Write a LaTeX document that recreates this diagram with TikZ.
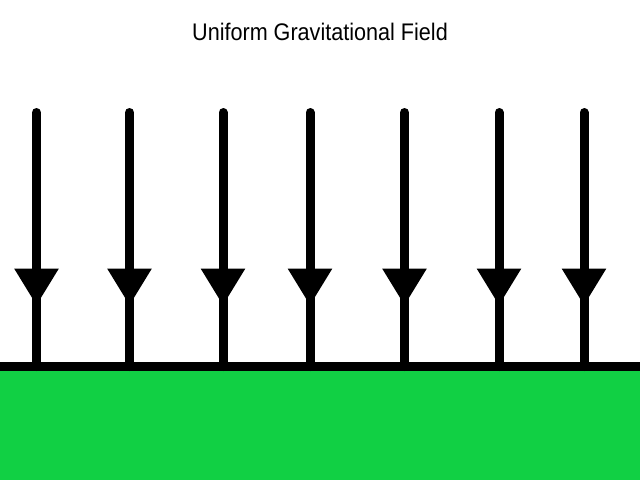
\documentclass[tikz,border=0pt]{standalone}
\usepackage{fontspec}
\setmainfont{Liberation Sans}
\newfontfamily\titlefont[FakeStretch=0.9]{Liberation Sans}
\usetikzlibrary{
  arrows.meta,
  decorations.markings
}
\definecolor{groundGreen}{HTML}{11D044}
\definecolor{fieldBlack}{HTML}{000000}
\tikzset{
  fieldline/.style={
    draw=fieldBlack, line width=9pt, line cap=round,
    postaction={decorate},
    decoration={markings,
      mark=at position 0.76 with
        {\arrow{Triangle[length=37pt,width=42pt]}}},
  },
  groundline/.style={
    draw=fieldBlack, line width=9pt,
  },
  titletext/.style={
    font=\titlefont\fontsize{24}{28}\selectfont, text=black,
    inner sep=0pt,
  },
}

\begin{document}
\begin{tikzpicture}[x=1pt, y=-1pt]
  \useasboundingbox (0,0) rectangle (640,480);

  % ─── Title ────────────────────────────────────────────────────────────
  \node[titletext, anchor=base] (title) at (320,40.7)
    {Uniform Gravitational Field};

  % ─── Ground ───────────────────────────────────────────────────────────
  \fill[groundGreen] (0,366.5) rectangle (640,480);
  \coordinate (groundL) at (0,366.5);
  \coordinate (groundR) at (640,366.5);
  \draw[groundline] (groundL) -- (groundR);

  % ─── Field lines ──────────────────────────────────────────────────────
  \foreach \i/\x in {1/36.5, 2/129.5, 3/223, 4/310, 5/404.5, 6/499, 7/584}{
    \coordinate (top\i) at (\x,112.5);
    \coordinate (foot\i) at (\x,366.5);
    \draw[fieldline] (top\i) -- (foot\i);
  }

\end{tikzpicture}
\end{document}
